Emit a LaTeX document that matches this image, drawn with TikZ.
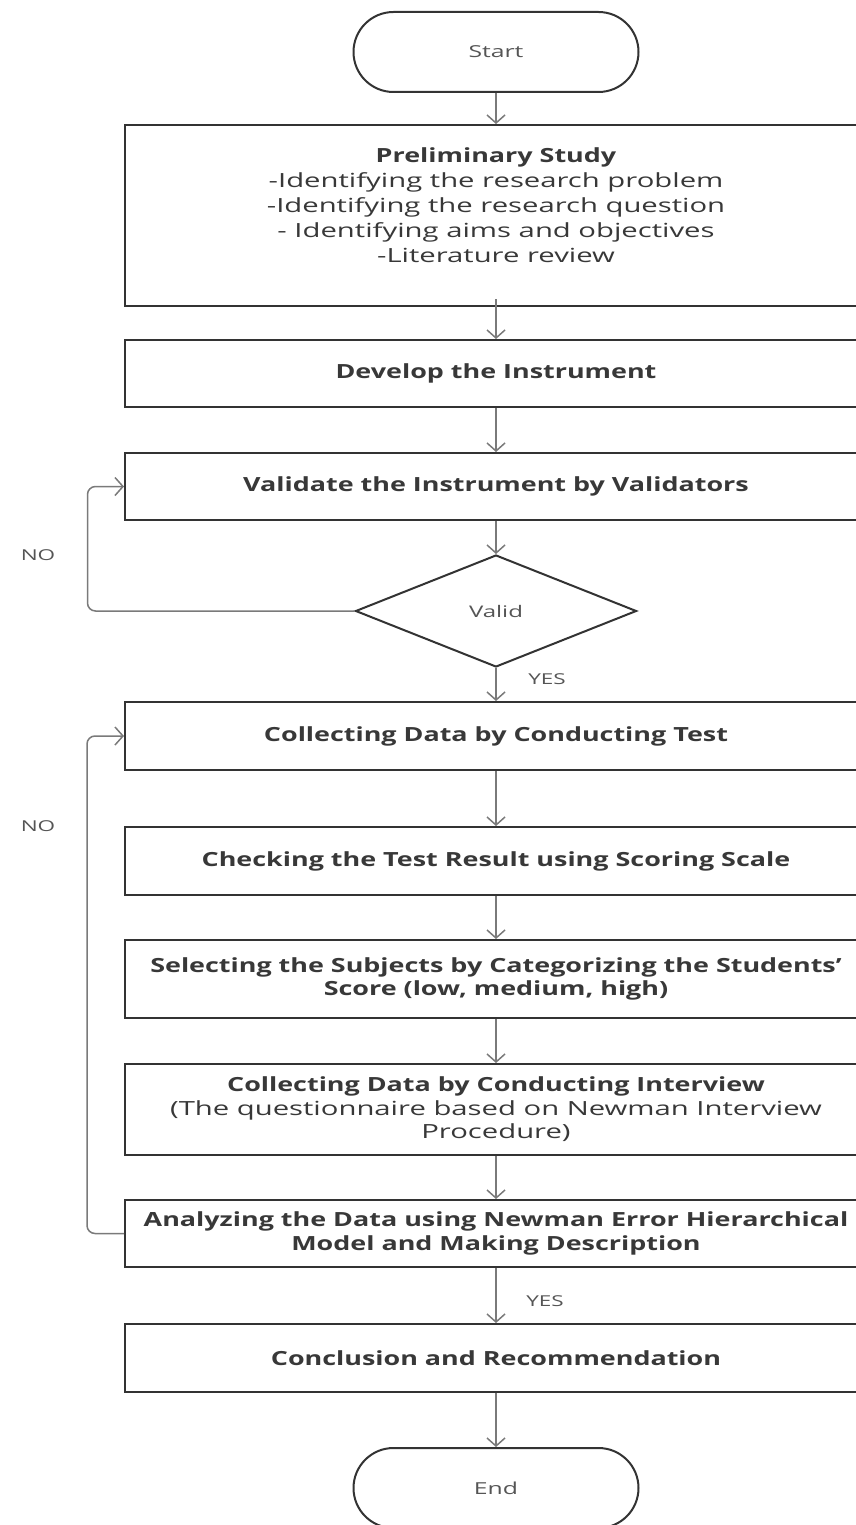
\documentclass[tikz,border=0pt]{standalone}
\usepackage{fontspec}
\setmainfont{Open Sans}[FakeStretch=1.5, BoldFeatures={FakeStretch=1.38}]
\usetikzlibrary{arrows.meta,shapes.geometric}
\definecolor{boxc}{HTML}{333333}
\definecolor{linec}{HTML}{7A7A7A}
\definecolor{txtc}{HTML}{383838}
\definecolor{lblc}{HTML}{555555}
\tikzset{
  box/.style={draw=boxc, line width=2pt, rectangle, minimum width=742pt, inner sep=0pt,
    align=center, text=txtc, font=\fontsize{19.5}{23.5}\selectfont\bfseries},
  txt/.style={align=center, text=txtc, inner sep=0pt, font=\fontsize{19.5}{25}\selectfont},
  term/.style={draw=boxc, line width=2pt, rectangle, rounded corners=40pt, minimum width=285pt,
    minimum height=80pt, inner sep=0pt, text=lblc, font=\fontsize{16.5}{18}\selectfont},
  dec/.style={draw=boxc, line width=2pt, diamond, minimum width=281pt, minimum height=112pt,
    inner sep=0pt, text=lblc, font=\fontsize{16}{18}\selectfont},
  lbl/.style={text=lblc, inner sep=0pt, font=\fontsize{15}{17}\selectfont},
  conn/.style={draw=linec, line width=1.5pt, -{Straight Barb[length=8pt,width=18pt,line width=1.5pt]}},
}
\begin{document}
\begin{tikzpicture}[x=1pt,y=-1pt]
\useasboundingbox (0,0) rectangle (856,1525);
\clip (0,0) rectangle (856,1525);
\fill[white] (0,0) rectangle (856,1525);

\node[term] (start) at (496,52) {Start};
\node[box, minimum height=181pt] (prelim) at (496,215.5) {};
\node[txt] (prelimtxt) at (496,205) {\textbf{Preliminary Study}\\-Identifying the research problem\\-Identifying the research question\\- Identifying aims and objectives\\-Literature review};
\node[box, minimum height=67pt] (develop) at (496,373.5) {Develop the Instrument};
\node[box, minimum height=67pt] (validate) at (496,486.5) {Validate the Instrument by Validators};
\node[dec] (valid) at (496,611) {Valid};
\node[box, minimum height=68pt] (collect) at (496,736) {Collecting Data by Conducting Test};
\node[box, minimum height=68pt] (check) at (496,861) {Checking the Test Result using Scoring Scale};
\node[box, minimum height=78pt] (select) at (496,979) {Selecting the Subjects by Categorizing the Students'\\Score (low, medium, high)};
\node[box, minimum height=91pt] (interview) at (496,1109.5) {Collecting Data by Conducting Interview\\\mdseries (The questionnaire based on Newman Interview\\\mdseries Procedure)};
\node[box, minimum height=67pt] (analyze) at (496,1233.5) {Analyzing the Data using Newman Error Hierarchical\\Model and Making Description};
\node[box, minimum height=68pt] (concl) at (496,1358) {Conclusion and Recommendation};
\node[term] (end) at (496,1488) {End};

\node[lbl] (no1) at (38,555) {NO};
\node[lbl] (no2) at (38,826) {NO};
\node[lbl] (yes1) at (547,679) {YES};
\node[lbl] (yes2) at (545,1301) {YES};

\draw[conn] (start) -- (prelim);
\draw[conn] ([yshift=8pt]prelim.south) -- (develop);
\draw[conn] (develop) -- (validate);
\draw[conn] (validate) -- (valid);
\draw[conn] (valid) -- (collect);
\draw[conn, rounded corners=8pt] (valid.west) -- ++(-267,0) |- (validate.west);
\draw[conn] (collect) -- (check);
\draw[conn] (check) -- (select);
\draw[conn] (select) -- (interview);
\draw[conn] (interview) -- (analyze);
\draw[conn, rounded corners=8pt] (analyze.west) -- ++(-37,0) |- (collect.west);
\draw[conn] (analyze) -- (concl);
\draw[conn] (concl) -- (end);
\end{tikzpicture}
\end{document}
